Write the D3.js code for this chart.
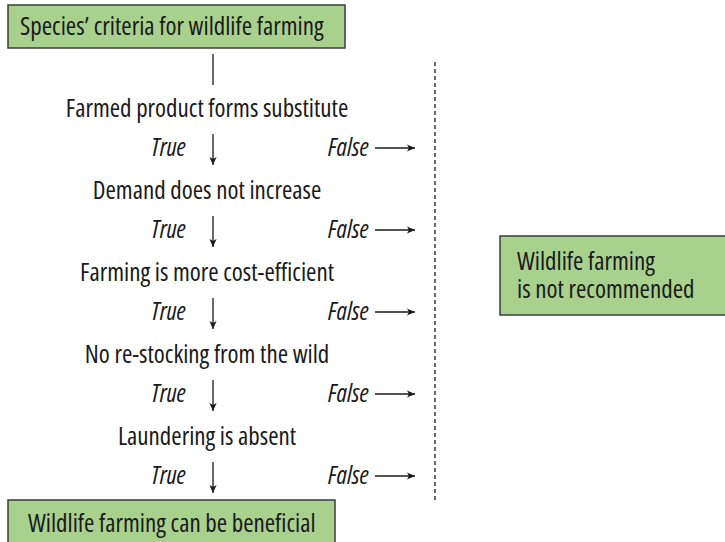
<!DOCTYPE html>
<html>
<head>
<meta charset="utf-8">
<script src="https://cdn.jsdelivr.net/npm/d3@7"></script>
<style>
    html, body { margin: 0; padding: 0; background: #fff; overflow: hidden; }
    svg { display: block; }
    text { font-family: "Open Sans", sans-serif; font-stretch: 75%; fill: #1a1a1a; }
</style>
</head>
<body>
<svg id="chart" width="725" height="542"></svg>
<script>
// flowchart content
const startLabel = "Species\u2019 criteria for wildlife farming";
const criteria = [
    "Farmed product forms substitute",
    "Demand does not increase",
    "Farming is more cost-efficient",
    "No re-stocking from the wild",
    "Laundering is absent"
];
const branchLabels = ["True", "False"];
const outcomeYes = "Wildlife farming can be beneficial";
const outcomeNo = ["Wildlife farming", "is not recommended"];

const svg = d3.select('#chart');
const ink = '#1a1a1a';
const fill = '#a9d18e';
const fs = 25;

// baseline of each criterion label
const y = d3.scalePoint()
    .domain(criteria)
    .range([117, 445]);
const branchOffset = 39;

// horizontal anchors
const x = d3.scaleOrdinal()
    .domain(['box', 'center', 'trueEnd', 'down', 'falseStart', 'arrowStart', 'arrowEnd', 'divider', 'noBox'])
    .range([8, 207, 186, 213, 328, 375, 415, 435, 500]);

svg.append('defs').append('marker')
    .attr('id', 'head')
    .attr('viewBox', '0 0 10 10')
    .attr('refX', 10).attr('refY', 5)
    .attr('markerWidth', 9).attr('markerHeight', 8)
    .attr('markerUnits', 'userSpaceOnUse')
    .attr('orient', 'auto')
    .append('path')
    .attr('d', 'M0,0.5 L10,5 L0,9.5 L2.5,5 Z')
    .attr('fill', ink);

function box(x0, y0, w, h) {
    return svg.append('rect')
        .attr('x', x0).attr('y', y0)
        .attr('width', w).attr('height', h)
        .attr('fill', fill)
        .attr('stroke', '#3c3c3c')
        .attr('stroke-width', 1.5);
}

// start box
box(x('box'), 5, 337, 43);
svg.append('text')
    .attr('x', 20).attr('y', 35)
    .attr('font-size', fs)
    .text(startLabel);

svg.append('line')
    .attr('x1', x('down')).attr('x2', x('down'))
    .attr('y1', 54).attr('y2', 85)
    .attr('stroke', ink).attr('stroke-width', 1.3);

// criteria rows
const rows = svg.selectAll('.row')
    .data(criteria)
    .enter()
    .append('g')
    .attr('class', 'row');

rows.append('text')
    .attr('x', x('center'))
    .attr('y', d => y(d))
    .attr('text-anchor', 'middle')
    .attr('font-size', fs)
    .text(d => d);

rows.append('text')
    .attr('x', x('trueEnd'))
    .attr('y', d => y(d) + branchOffset)
    .attr('text-anchor', 'end')
    .attr('font-size', fs)
    .attr('font-style', 'italic')
    .text(branchLabels[0]);

rows.append('line')
    .attr('x1', x('down')).attr('x2', x('down'))
    .attr('y1', d => y(d) + branchOffset - 22)
    .attr('y2', d => y(d) + branchOffset + 9)
    .attr('stroke', ink).attr('stroke-width', 1.3)
    .attr('marker-end', 'url(#head)');

rows.append('text')
    .attr('x', x('falseStart'))
    .attr('y', d => y(d) + branchOffset)
    .attr('font-size', fs)
    .attr('font-style', 'italic')
    .text(branchLabels[1]);

rows.append('line')
    .attr('x1', x('arrowStart')).attr('x2', x('arrowEnd'))
    .attr('y1', d => y(d) + branchOffset - 8)
    .attr('y2', d => y(d) + branchOffset - 8)
    .attr('stroke', ink).attr('stroke-width', 1.3)
    .attr('marker-end', 'url(#head)');

// divider
svg.append('line')
    .attr('x1', x('divider')).attr('x2', x('divider'))
    .attr('y1', 62).attr('y2', 500)
    .attr('stroke', ink).attr('stroke-width', 1.3)
    .attr('stroke-dasharray', '4,3');

// outcome: not recommended
box(x('noBox'), 236, 240, 79);
svg.append('g').selectAll('text')
    .data(outcomeNo)
    .enter()
    .append('text')
    .attr('x', 517)
    .attr('y', (d, i) => 270 + i * 27.5)
    .attr('font-size', fs)
    .text(d => d);

// outcome: beneficial
box(x('box'), 500, 327, 50);
svg.append('text')
    .attr('x', 28).attr('y', 532)
    .attr('font-size', fs)
    .text(outcomeYes);
</script>
</body>
</html>
